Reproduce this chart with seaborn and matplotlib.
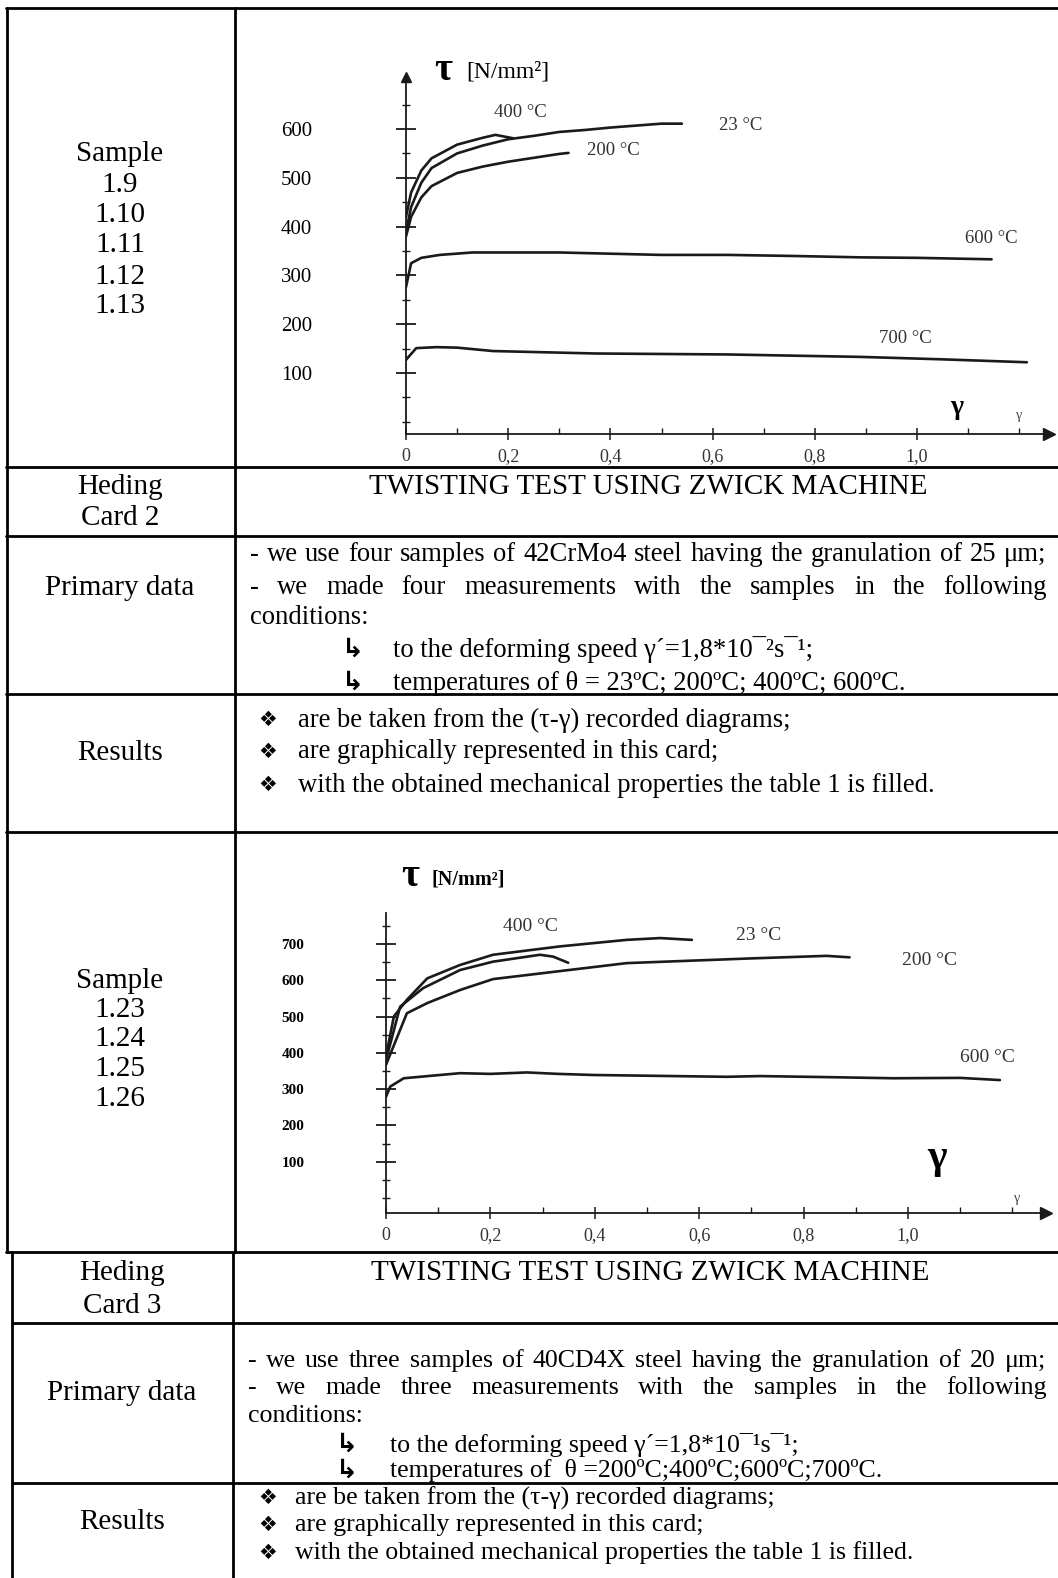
import numpy as np
import seaborn as sns
import matplotlib.pyplot as plt
from matplotlib.lines import Line2D
from matplotlib.ticker import MultipleLocator, FixedLocator

sns.set_theme(style="white")
plt.rcParams['font.family'] = ['Liberation Serif', 'DejaVu Serif', 'DejaVu Sans']

W, H = 1058, 1578

# ---- card 2 curves (gamma, tau [N/mm2]) ----
c2_labels = ["23 °C", "400 °C", "200 °C", "600 °C", "700 °C"]
c2_23_x = [0, 0.01, 0.03, 0.05, 0.1, 0.15, 0.2, 0.25, 0.3, 0.35, 0.4, 0.45, 0.5, 0.54]
c2_23_y = [390, 440, 490, 520, 550, 566, 579, 586, 594, 598, 603, 607, 611, 611]
c2_400_x = [0, 0.01, 0.03, 0.05, 0.1, 0.15, 0.175, 0.19, 0.21]
c2_400_y = [420, 470, 515, 540, 568, 582, 588, 585, 581]
c2_200_x = [0, 0.01, 0.03, 0.05, 0.1, 0.15, 0.2, 0.25, 0.3, 0.318]
c2_200_y = [380, 420, 460, 483, 510, 523, 533, 541, 549, 551]
c2_600_x = [0, 0.01, 0.03, 0.066, 0.13, 0.3, 0.5, 0.63, 0.75, 0.89, 1.0, 1.146]
c2_600_y = [276, 325, 336, 342, 347, 347, 342, 342, 340, 337, 336, 333]
c2_700_x = [0, 0.02, 0.06, 0.1, 0.17, 0.37, 0.63, 0.89, 1.05, 1.215]
c2_700_y = [127, 151, 153, 152, 145, 140, 138, 133, 128, 122]
c2_label_pos = [(0.654, 608), (0.223, 633), (0.405, 555), (1.146, 375), (0.977, 170)]

# ---- card 3 curves ----
c3_labels = ["23 °C", "400 °C", "200 °C", "600 °C"]
c3_23_x = [0, 0.015, 0.04, 0.079, 0.142, 0.205, 0.333, 0.461, 0.525, 0.586]
c3_23_y = [390, 500, 546, 605, 642, 670, 693, 711, 716, 711]
c3_400_x = [0, 0.027, 0.071, 0.142, 0.205, 0.295, 0.32, 0.349]
c3_400_y = [380, 527, 578, 628, 651, 670, 665, 648]
c3_200_x = [0, 0.04, 0.079, 0.142, 0.205, 0.333, 0.461, 0.589, 0.7, 0.844, 0.888]
c3_200_y = [367, 509, 537, 573, 603, 625, 647, 654, 660, 667, 663]
c3_600_x = [0, 0.008, 0.034, 0.142, 0.2, 0.27, 0.33, 0.397, 0.5, 0.652, 0.716, 0.85, 0.972, 1.1, 1.176]
c3_600_y = [279, 307, 330, 344, 342, 346, 342, 339, 337, 334, 336, 333, 330, 331, 325]
c3_label_pos = [(0.713, 722), (0.276, 748), (1.042, 653), (1.153, 387)]

x_ticks = [0, 0.2, 0.4, 0.6, 0.8, 1.0]
x_ticklabels = ["0", "0,2", "0,4", "0,6", "0,8", "1,0"]
c2_y_ticks = [100, 200, 300, 400, 500, 600]
c3_y_ticks = [100, 200, 300, 400, 500, 600, 700]

card2_primary = [
    "-  we use four samples of 42CrMo4 steel having the granulation of 25 μm;",
    "- we made four measurements with the samples in the following",
    "conditions:",
    "to the deforming speed γ´=1,8*10¯²s¯¹;",
    "temperatures of θ = 23ºC; 200ºC; 400ºC; 600ºC.",
]
card3_primary = [
    "-  we use three samples of 40CD4X steel having the granulation of 20 μm;",
    "- we made three measurements with the samples in the following",
    "conditions:",
    "to the deforming speed γ´=1,8*10¯¹s¯¹;",
    "temperatures of  θ =200ºC;400ºC;600ºC;700ºC.",
]
results_lines = [
    "are be taken from the (τ-γ) recorded diagrams;",
    "are graphically represented in this card;",
    "with the obtained mechanical properties the table 1 is filled.",
]
samples2 = ["Sample", "1.9", "1.10", "1.11", "1.12", "1.13"]
samples3 = ["Sample", "1.23", "1.24", "1.25", "1.26"]
title = "TWISTING TEST USING ZWICK MACHINE"

fig = plt.figure(figsize=(W / 100, H / 100), dpi=100)
fig.patch.set_facecolor("white")
FS = 19.2      # body text
FL = 21        # left column + title
INK = "#1a1a1a"


def P(x, y):
    return x / W, 1 - y / H


def hline(x0, x1, y):
    fig.add_artist(Line2D([x0 / W, x1 / W], [1 - y / H, 1 - y / H], color="black", lw=2.0))


def vline(x, y0, y1):
    fig.add_artist(Line2D([x / W, x / W], [1 - y0 / H, 1 - y1 / H], color="black", lw=2.0))


def txt(x, y, s, ha="left", size=FS, **kw):
    return fig.text(*P(x, y), s, ha=ha, va="center", fontsize=size, color="black", **kw)


def justify(s, x0, x1, y, size=FS):
    words = s.split()
    ts = [txt(0, y, w, size=size) for w in words]
    r = fig.canvas.get_renderer()
    ws = [t.get_window_extent(r).width for t in ts]
    gap = (x1 - x0 - sum(ws)) / (len(words) - 1)
    x = x0
    for t, w in zip(ts, ws):
        t.set_position(P(x, y))
        x += w + gap


def arrow(x, y):
    txt(x, y, "↳", family="DejaVu Sans", size=19, fontweight="bold")


def bullet(x, y):
    txt(x, y, "❖", family="DejaVu Sans", size=15)


# ---- table frame ----
for y in [8, 467, 536, 694, 832, 1252]:
    hline(6, W, y)
for y in [1323, 1483]:
    hline(12, W, y)
vline(6.5, 8, 1252)
vline(235, 8, 1252)
vline(12, 1252, H)
vline(233, 1252, H)

# ---- left column ----
for s, y in zip(samples2, [154, 185, 215, 245, 277, 306]):
    txt(120, y, s, ha="center", size=FL)
for s, y in zip(samples3, [981, 1010, 1039, 1069, 1099]):
    txt(120, y, s, ha="center", size=FL)
txt(120, 487, "Heding", ha="center", size=FL)
txt(120, 518, "Card 2", ha="center", size=FL)
txt(120, 588, "Primary data", ha="center", size=FL)
txt(120, 753, "Results", ha="center", size=FL)
txt(122, 1273, "Heding", ha="center", size=FL)
txt(122, 1306, "Card 3", ha="center", size=FL)
txt(122, 1393, "Primary data", ha="center", size=FL)
txt(122, 1522, "Results", ha="center", size=FL)

# ---- card 2 text ----
txt(648, 487, title, ha="center", size=FL)
justify(card2_primary[0], 250, 1046, 555)
justify(card2_primary[1], 250, 1047, 587)
txt(250, 618, card2_primary[2])
for s, y in zip(card2_primary[3:], [650, 683]):
    arrow(342, y)
    txt(393, y, s)
for s, y in zip(results_lines, [720, 752, 785]):
    bullet(258, y)
    txt(298, y, s)

# ---- card 3 text (tighter line pitch, as in the scan) ----
F3 = 18.6
txt(650, 1273, title, ha="center", size=FL)
justify(card3_primary[0], 248, 1046, 1361, size=F3)
justify(card3_primary[1], 248, 1047, 1388, size=F3)
txt(248, 1416, card3_primary[2], size=F3)
for s, y in zip(card3_primary[3:], [1445, 1471]):
    arrow(336, y)
    txt(390, y, s, size=F3)
for s, y in zip(results_lines, [1498, 1525, 1553]):
    bullet(258, y)
    txt(295, y, s, size=F3)


def make_axes(left, right, top, bottom):
    return fig.add_axes([left / W, 1 - bottom / H, (right - left) / W, (bottom - top) / H])


def style_axes(ax, yticks, ylab_kw, pad_y, arrow_top):
    ax.set_facecolor("none")
    for sp in ["top", "right"]:
        ax.spines[sp].set_visible(False)
    for sp in ["left", "bottom"]:
        ax.spines[sp].set_color(INK)
        ax.spines[sp].set_linewidth(1.3)
    ax.set_xticks(x_ticks)
    ax.set_xticklabels(x_ticklabels, fontsize=13, color="#333333")
    ax.xaxis.set_minor_locator(FixedLocator([0.1, 0.3, 0.5, 0.7, 0.9, 1.1, 1.2]))
    ax.set_yticks(yticks)
    ax.set_yticklabels([str(v) for v in yticks], **ylab_kw)
    ax.yaxis.set_minor_locator(MultipleLocator(50))
    ax.tick_params(axis="x", which="major", direction="inout", length=8, width=1.1, color=INK, pad=6)
    ax.tick_params(axis="x", which="minor", direction="in", length=4, width=1, color=INK)
    ax.tick_params(axis="y", which="major", direction="inout", length=14, width=1.3, color=INK, pad=pad_y)
    ax.tick_params(axis="y", which="minor", direction="inout", length=6, width=1, color=INK)
    ax.tick_params(left=True, bottom=True, which="both")
    ax.set_xlabel("")
    ax.set_ylabel("")
    ax.plot(1, 0, ">", color=INK, ms=8, transform=ax.transAxes, clip_on=False)
    if arrow_top:
        ax.plot(0, 1, "^", color=INK, ms=7, transform=ax.transAxes, clip_on=False)


# ---- card 2 chart ----
ax1 = make_axes(406, 1049, 77, 434)
for xs, ys in [(c2_23_x, c2_23_y), (c2_400_x, c2_400_y), (c2_200_x, c2_200_y),
               (c2_600_x, c2_600_y), (c2_700_x, c2_700_y)]:
    sns.lineplot(x=xs, y=ys, ax=ax1, color=INK, lw=1.9, estimator=None)
ax1.set_xlim(0, (1049 - 406) / 511)
ax1.set_ylim(-25, 706.6)
style_axes(ax1, c2_y_ticks, dict(fontsize=15, color="black", ha="center"), 72, True)
for lab, (lx, ly) in zip(c2_labels, c2_label_pos):
    ax1.text(lx, ly, lab, ha="center", va="center", fontsize=13.5, color="#333333")
ax1.text(1.078, 30, "γ", ha="center", va="center", fontsize=20, fontweight="bold", color="black")
ax1.text(1.2, 0, "γ", ha="center", va="bottom", fontsize=10, color="#444444")
txt(443, 70, "τ", ha="center", size=28, fontweight="bold")
txt(508, 72, "[N/mm²]", ha="center", size=17)

# ---- card 3 chart ----
ax2 = make_axes(386, 1046, 913, 1213)
for xs, ys in [(c3_23_x, c3_23_y), (c3_400_x, c3_400_y), (c3_200_x, c3_200_y),
               (c3_600_x, c3_600_y)]:
    sns.lineplot(x=xs, y=ys, ax=ax2, color=INK, lw=1.9, estimator=None)
ax2.set_xlim(0, (1046 - 386) / 522)
ax2.set_ylim(-41, 785)
style_axes(ax2, c3_y_ticks, dict(fontsize=11, fontweight="bold", color="black", ha="center"), 60, False)
for lab, (lx, ly) in zip(c3_labels, c3_label_pos):
    ax2.text(lx, ly, lab, ha="center", va="center", fontsize=14, color="#333333")
ax2.text(1.056, 110, "γ", ha="center", va="center", fontsize=30, fontweight="bold", color="black")
ax2.text(1.21, -20, "γ", ha="center", va="bottom", fontsize=10, color="#444444")
txt(410, 877, "τ", ha="center", size=28, fontweight="bold")
txt(468, 879, "[N/mm²]", ha="center", size=14.5, fontweight="bold")

fig.savefig("out.png", dpi=100, facecolor="white")
